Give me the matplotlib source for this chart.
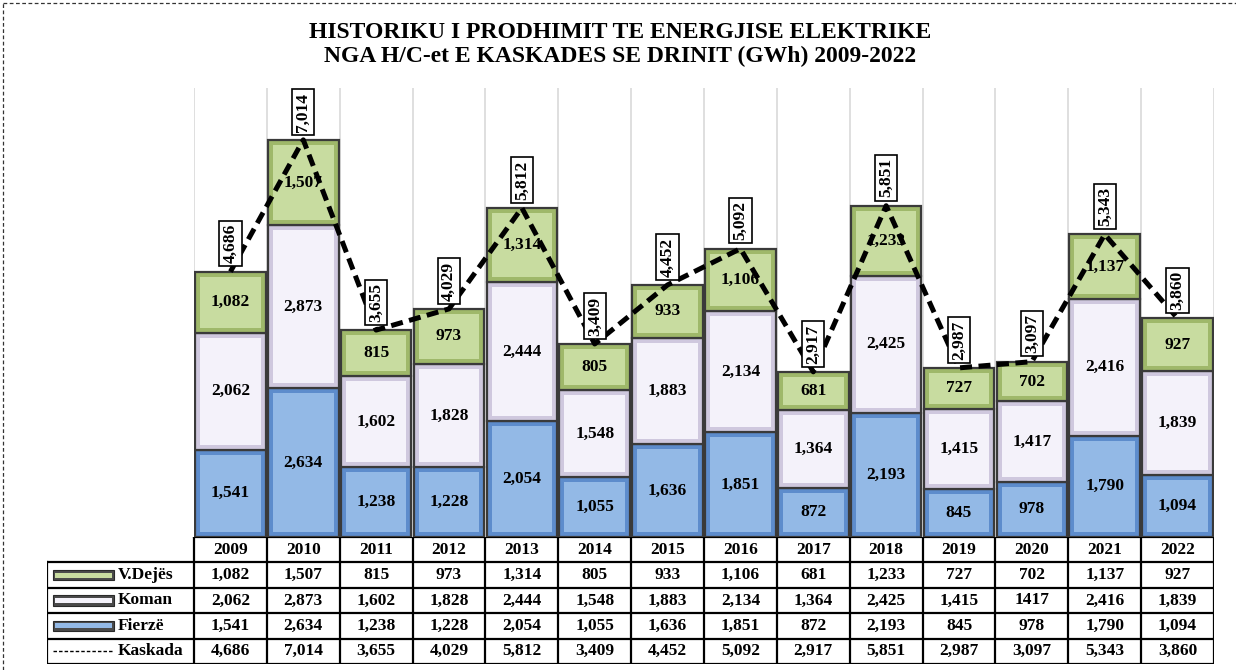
import numpy as np
import matplotlib
matplotlib.use('Agg')
import matplotlib.pyplot as plt
from matplotlib.patches import Rectangle
from matplotlib.lines import Line2D

# --- data ---
years = ['2009', '2010', '2011', '2012', '2013', '2014', '2015',
         '2016', '2017', '2018', '2019', '2020', '2021', '2022']
fierze = [1541, 2634, 1238, 1228, 2054, 1055, 1636, 1851, 872, 2193, 845, 978, 1790, 1094]
koman = [2062, 2873, 1602, 1828, 2444, 1548, 1883, 2134, 1364, 2425, 1415, 1417, 2416, 1839]
vdejes = [1082, 1507, 815, 973, 1314, 805, 933, 1106, 681, 1233, 727, 702, 1137, 927]
kaskada = [4686, 7014, 3655, 4029, 5812, 3409, 4452, 5092, 2917, 5851, 2987, 3097, 5343, 3860]
# table text exactly as printed (2020 Koman without comma)
koman_txt = ['2,062', '2,873', '1,602', '1,828', '2,444', '1,548', '1,883',
             '2,134', '1,364', '2,425', '1,415', '1417', '2,416', '1,839']

W, H = 1236, 670
SERIF = ['Liberation Serif', 'DejaVu Serif']
FS = 12.5

# colours: (rim, centre)
c_fierze = ('#5d8ccc', '#93b9e6')
c_koman = ('#cfc8de', '#f4f2fa')
c_vdejes = ('#9fb86a', '#c8dca0')
EDGE = '#3a3a3a'

fig = plt.figure(figsize=(W / 100, H / 100), dpi=100)

# main bar axes
L, R, B, T = 194, 1214, 537, 88
ax = fig.add_axes([L / W, (H - B) / H, (R - L) / W, (B - T) / H])
ymax = 7930
ax.set_xlim(-0.5, 13.5)
ax.set_ylim(0, ymax)
for s in ax.spines.values():
    s.set_visible(False)
ax.set_xticks([])
ax.set_yticks([])

# vertical grid lines at category borders
for k in range(15):
    ax.axvline(-0.5 + k, color='#d9d9d9', lw=1.2, zorder=0)

px_per_unit = (B - T) / ymax
px_per_x = (R - L) / 14.0
bw = 0.97
inset_x = 5 / px_per_x
inset_y = 5 / px_per_unit


def bevel_bar(x, y0, h, colors):
    rim, centre = colors
    ax.add_patch(Rectangle((x - bw / 2, y0), bw, h, facecolor=rim,
                           edgecolor=EDGE, lw=1.6, zorder=2))
    ax.add_patch(Rectangle((x - bw / 2 + inset_x, y0 + inset_y),
                           bw - 2 * inset_x, h - 2 * inset_y,
                           facecolor=centre, edgecolor='none', zorder=3))


x = np.arange(len(years))
for i in range(len(years)):
    b0 = 0
    for vals, col in [(fierze, c_fierze), (koman, c_koman), (vdejes, c_vdejes)]:
        bevel_bar(x[i], b0, vals[i], col)
        ax.text(x[i], b0 + vals[i] / 2, f'{vals[i]:,}', ha='center', va='center',
                fontsize=FS, fontweight='bold', family=SERIF, zorder=5)
        b0 += vals[i]

# Kaskada dashed line
ax.plot(x, kaskada, color='black', lw=3.6, ls=(0, (2.4, 1.3)), zorder=6,
        dash_capstyle='butt')
for i in range(len(years)):
    ax.annotate(f'{kaskada[i]:,}', (x[i], kaskada[i]), xytext=(0, 6),
                textcoords='offset points', rotation=90, ha='center', va='bottom',
                fontsize=FS, fontweight='bold', family=SERIF, zorder=7,
                bbox=dict(boxstyle='square,pad=0.18', fc='white', ec='black', lw=1.2))

# title
fig.text(620 / W, 1 - 33 / H, 'HISTORIKU I PRODHIMIT TE ENERGJISE ELEKTRIKE',
         ha='center', va='center', fontsize=17, fontweight='bold', family=SERIF)
fig.text(620 / W, 1 - 56 / H, 'NGA H/C-et E KASKADES SE DRINIT (GWh) 2009-2022',
         ha='center', va='center', fontsize=17, fontweight='bold', family=SERIF)

# data table below the bars
TL, TB = 47, 664
tab = fig.add_axes([TL / W, (H - TB) / H, (R - TL) / W, (TB - B) / H])
xl = -0.5 - (L - TL) / px_per_x
tab.set_xlim(xl, 13.5)
tab.set_ylim(0, 5)
tab.axis('off')
lk = dict(color='black', lw=1.6, solid_capstyle='projecting')
tab.plot([-0.5, 13.5], [5, 5], **lk)
for yy in range(5):
    tab.plot([xl, 13.5], [yy, yy], **lk)
for k in range(15):
    tab.plot([-0.5 + k, -0.5 + k], [0, 5], **lk)
tab.plot([xl, xl], [0, 4], **lk)

tfont = dict(ha='center', va='center', fontsize=FS, fontweight='bold', family=SERIF)
rows = [
    ('V.Dejës', [f'{v:,}' for v in vdejes], c_vdejes),
    ('Koman', koman_txt, c_koman),
    ('Fierzë', [f'{v:,}' for v in fierze], c_fierze),
    ('Kaskada', [f'{v:,}' for v in kaskada], None),
]
for i, yr in enumerate(years):
    tab.text(i, 4.5, yr, **tfont)
sw_x0 = xl + 6 / px_per_x
sw_w = 61 / px_per_x
txt_x = xl + 71 / px_per_x
for r, (name, vals, col) in enumerate(rows):
    yc = 3.5 - r
    for i, v in enumerate(vals):
        tab.text(i, yc, v, **tfont)
    if col is not None:
        tab.add_patch(Rectangle((sw_x0, yc - 0.2), sw_w, 0.4, facecolor='#4a4a4a',
                                edgecolor='#2a2a2a', lw=0.8))
        tab.add_patch(Rectangle((sw_x0 + 0.03, yc - 0.1), sw_w - 0.06, 0.2,
                                facecolor=col[1], edgecolor='none'))
    else:
        tab.plot([sw_x0, sw_x0 + sw_w], [yc, yc], color='black', lw=1.0,
                 ls=(0, (2.5, 1.5)))
    tab.text(txt_x, yc, name, ha='left', va='center', fontsize=FS,
             fontweight='bold', family=SERIF)

# dashed frame (left and top edges visible)
fig.add_artist(Line2D([3 / W, 3 / W], [0, 1 - 3 / H], color='#333333', lw=0.9,
                      ls=(0, (3, 2))))
fig.add_artist(Line2D([3 / W, 1], [1 - 3 / H, 1 - 3 / H], color='#333333', lw=0.9,
                      ls=(0, (3, 2))))

fig.savefig('out.png', dpi=100)
